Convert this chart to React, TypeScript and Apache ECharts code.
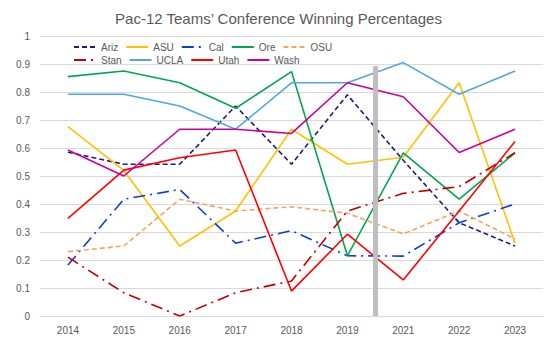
import React, { useEffect, useRef } from "react";
import * as echarts from "echarts";

const years = ["2014", "2015", "2016", "2017", "2018", "2019", "2021", "2022", "2023"];
const yTicks = [0, 0.1, 0.2, 0.3, 0.4, 0.5, 0.6, 0.7, 0.8, 0.9, 1];

const ariz = [0.585, 0.542, 0.542, 0.75, 0.542, 0.79, 0.556, 0.333, 0.25];
const asu = [0.676, 0.52, 0.25, 0.375, 0.667, 0.542, 0.567, 0.833, 0.26];
const cal = [0.182, 0.417, 0.452, 0.26, 0.305, 0.215, 0.214, 0.333, 0.4];
const ore = [0.855, 0.875, 0.833, 0.742, 0.873, 0.215, 0.583, 0.417, 0.583];
const osu = [0.23, 0.25, 0.417, 0.375, 0.39, 0.367, 0.293, 0.375, 0.275];
const stan = [0.21, 0.083, 0.0, 0.083, 0.125, 0.375, 0.438, 0.462, 0.583];
const ucla = [0.792, 0.792, 0.75, 0.667, 0.833, 0.833, 0.905, 0.792, 0.875];
const utah = [0.349, 0.521, 0.565, 0.593, 0.089, 0.292, 0.129, 0.375, 0.623];
const wash = [0.593, 0.5, 0.667, 0.667, 0.652, 0.833, 0.783, 0.584, 0.667];

// gap marker between 2019 and 2021 (no 2020 season)
const gapBoundaryIndex = 6;
const gapTop = 0.893;

const row1 = ["Ariz", "ASU", "Cal", "Ore", "OSU"];
const row2 = ["Stan", "UCLA", "Utah", "Wash"];

export default function App() {
  const ref = useRef<HTMLDivElement>(null);
  useEffect(() => {
    document.body.style.margin = "0";
    if (!ref.current) return;
    const chart = echarts.init(ref.current, null, { renderer: "svg" });
    const font = "Liberation Sans";
    const dashDot = [12, 5, 2, 5];
    const mk = (name: string, data: number[], color: string, type: any) => ({
      name,
      type: "line",
      data,
      symbol: "none",
      lineStyle: { color, width: 1.6, type },
      itemStyle: { color },
      z: 3,
    });
    const legendCommon = {
      left: 68,
      itemWidth: 22,
      itemHeight: 10,
      itemGap: 7,
      itemStyle: { opacity: 0 },
      textStyle: { color: "#595959", fontSize: 10, fontFamily: font, width: 34, overflow: "truncate" },
    };
    chart.setOption({
      animation: false,
      backgroundColor: "#ffffff",
      title: {
        text: "Pac-12 Teams\u2019 Conference Winning Percentages",
        left: "center",
        top: 6,
        textStyle: { color: "#595959", fontSize: 15, fontWeight: "normal", fontFamily: font },
      },
      legend: [
        { ...legendCommon, top: 37, data: row1 },
        { ...legendCommon, top: 50, data: row2 },
      ],
      grid: { left: 40, right: 14, top: 36, bottom: 34 },
      xAxis: [
        {
          type: "category",
          data: years,
          boundaryGap: true,
          axisLine: { show: true, lineStyle: { color: "#d9d9d9" } },
          axisTick: { show: false },
          axisLabel: { color: "#595959", fontSize: 10, fontFamily: font, margin: 9 },
        },
        { type: "value", min: 0, max: years.length, show: false },
      ],
      yAxis: {
        type: "value",
        min: 0,
        max: 1,
        interval: 0.1,
        axisLine: { show: false },
        axisTick: { show: false },
        axisLabel: {
          color: "#595959",
          fontSize: 10,
          fontFamily: font,
          margin: 10,
          formatter: (v: number) => {
            const t = yTicks.find((x) => Math.abs(x - v) < 1e-6);
            return t === undefined ? "" : String(t);
          },
        },
        splitLine: { lineStyle: { color: "#d9d9d9", width: 1 } },
      },
      series: [
        {
          name: "gap",
          type: "line",
          xAxisIndex: 1,
          data: [],
          z: 2,
          markLine: {
            silent: true,
            symbol: "none",
            label: { show: false },
            lineStyle: { color: "#bfbfbf", width: 5, type: "solid" },
            data: [[{ coord: [gapBoundaryIndex, 0] }, { coord: [gapBoundaryIndex, gapTop] }]],
          },
        },
        mk("Ariz", ariz, "#1c1c80", [5, 3]),
        mk("ASU", asu, "#ffc000", "solid"),
        mk("Cal", cal, "#0a3fd0", dashDot),
        mk("Ore", ore, "#00a651", "solid"),
        mk("OSU", osu, "#f4a460", [5, 3]),
        mk("Stan", stan, "#c00000", dashDot),
        mk("UCLA", ucla, "#4eaade", "solid"),
        mk("Utah", utah, "#ff0000", "solid"),
        mk("Wash", wash, "#cc0099", "solid"),
      ],
    });
    return () => chart.dispose();
  }, []);
  return <div ref={ref} style={{ width: 557, height: 350 }} />;
}
